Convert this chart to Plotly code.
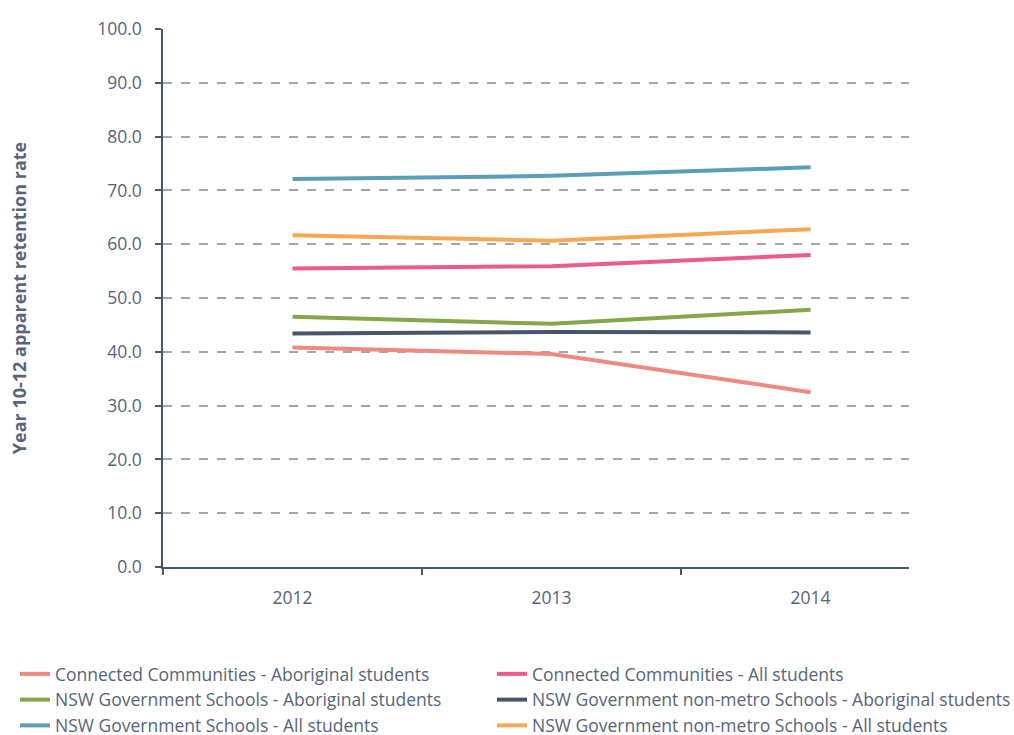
import plotly.graph_objects as go

years = ["2012", "2013", "2014"]

series_names = [
    "Connected Communities - Aboriginal students",
    "Connected Communities - All students",
    "NSW Government Schools - Aboriginal students",
    "NSW Government non-metro Schools - Aboriginal students",
    "NSW Government Schools - All students",
    "NSW Government non-metro Schools - All students",
]

cc_aboriginal = [40.8, 39.6, 32.5]
cc_all = [55.5, 55.9, 58.0]
nsw_aboriginal = [46.5, 45.2, 47.8]
nonmetro_aboriginal = [43.4, 43.7, 43.6]
nsw_all = [72.1, 72.7, 74.3]
nonmetro_all = [61.65, 60.65, 62.8]

series_values = [cc_aboriginal, cc_all, nsw_aboriginal,
                 nonmetro_aboriginal, nsw_all, nonmetro_all]
series_colors = ["#f08a80", "#ed5b88", "#86a64a", "#47576a", "#5b9fb7", "#f6a855"]

y_ticks = [0, 10, 20, 30, 40, 50, 60, 70, 80, 90, 100]

TEXT = "#56657a"
AXIS = "#4a5868"
FONT = "Open Sans, Noto Sans, sans-serif"

fig = go.Figure()
positions = list(range(len(years)))
for i, (name, vals, col) in enumerate(zip(series_names, series_values, series_colors)):
    # legend entries are laid out in two columns: even -> left, odd -> right
    fig.add_trace(go.Scatter(
        x=positions, y=vals, name=name, mode="lines",
        line=dict(color=col, width=4),
        legend="legend" if i % 2 == 0 else "legend2",
        hovertemplate="%{y:.1f}<extra>" + name + "</extra>",
    ))

# horizontal legends whose entries are wide enough to wrap one per row
legend_common = dict(
    orientation="h",
    xref="container", yref="container",
    xanchor="left",
    y=1 - 656 / 735, yanchor="top",
    entrywidthmode="pixels",
    font=dict(size=17.5, color=TEXT), tracegroupgap=0,
    itemwidth=30, bgcolor="rgba(0,0,0,0)",
)

fig.update_layout(
    width=1014, height=735,
    margin=dict(l=163, r=105, t=29, b=168),
    paper_bgcolor="white", plot_bgcolor="white",
    font=dict(family=FONT, color=TEXT, size=17.5),
    showlegend=True,
    legend=dict(x=15 / 1014, entrywidth=420, **legend_common),
    legend2=dict(x=(15 + 477) / 1014, entrywidth=500, **legend_common),
    xaxis=dict(
        range=[-0.5, 2.38],
        tickmode="array", tickvals=positions, ticktext=years,
        ticks="", showgrid=False, zeroline=False,
        showline=True, linecolor=AXIS, linewidth=1.5,
        tickfont=dict(size=17.5, color=TEXT),
        ticklabelstandoff=14,
        minor=dict(tick0=-0.5, dtick=1, ticks="outside", ticklen=6,
                   tickcolor=AXIS, tickwidth=1.5, showgrid=False),
    ),
    yaxis=dict(
        range=[0, 100],
        tickmode="array", tickvals=y_ticks,
        tickformat=".1f",
        ticks="outside", ticklen=6, tickcolor=AXIS, tickwidth=1.5,
        ticklabelstandoff=10,
        showline=True, linecolor=AXIS, linewidth=1.5,
        showgrid=True, gridcolor="#a3a7b0", gridwidth=1.5, griddash="dash",
        zeroline=False,
        tickfont=dict(size=17.5, color=TEXT),
        title=dict(text="<b>Year 10-12 apparent retention rate</b>",
                   font=dict(size=18, color=TEXT), standoff=66),
    ),
)

fig.write_html("out.html")
